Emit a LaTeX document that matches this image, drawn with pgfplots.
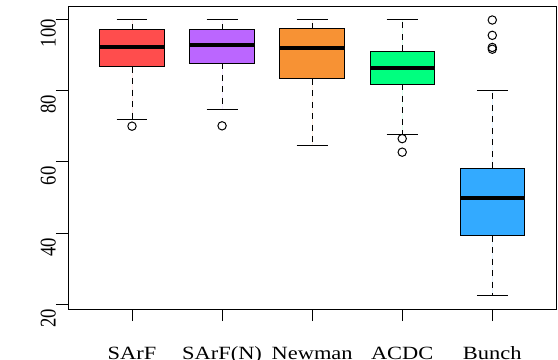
\documentclass[border=0pt]{standalone}
\usepackage{fontspec}
\setmainfont{Liberation Serif}
\usepackage{graphicx}
\usepackage{pgfplots}
\pgfplotsset{compat=1.18}
\usepgfplotslibrary{statistics}
\definecolor{cred}{RGB}{255,77,77}
\definecolor{cpurple}{RGB}{187,102,255}
\definecolor{corange}{RGB}{247,146,52}
\definecolor{cgreen}{RGB}{0,255,127}
\definecolor{cblue}{RGB}{51,170,255}
\begin{document}
\begin{tikzpicture}
\useasboundingbox (-68bp,-51bp) rectangle (490bp,309bp);
\begin{axis}[
  at={(0,0)}, anchor=south west,
  scale only axis, width=488.5bp, height=302.2bp,
  xmin=0.2894, xmax=5.713, ymin=18.68, ymax=103.51,
  axis line style={line width=1bp, black},
  tick pos=left, tick align=outside,
  major tick length=12bp,
  tick style={line width=1bp, black},
  xtick={1,2,3,4,5},
  xticklabels={\scalebox{1.2}[1]{SArF},\scalebox{1.2}[1]{SArF(N)},\scalebox{1.2}[1]{Newman},\scalebox{1.2}[1]{ACDC},\scalebox{1.2}[1]{Bunch}},
  ytick={20,40,60,80,100},
  yticklabel={\scalebox{1}[1.2]{\pgfmathprintnumber{\tick}}},
  /pgf/number format/assume math mode=true,
  tick label style={font=\fontsize{18.7bp}{22bp}\selectfont, inner sep=0pt},
  xticklabel style={anchor=base, yshift=-38bp},
  yticklabel style={rotate=90, anchor=south, xshift=-14bp},
  boxplot/draw direction=y,
  boxplot/every median/.style={line width=4bp},
  boxplot/every whisker/.style={dash pattern=on 6bp off 5.5bp},
  bp/.style={solid, fill=#1, draw=black, line width=1bp, mark=o, mark size=4.2bp, mark options={solid, black, fill=none, line width=1bp}},
]
% SArF
\addplot+[bp=cred, boxplot prepared={draw position=1, lower whisker=72, lower quartile=86.7, median=92.3, upper quartile=97.0, upper whisker=100, box extend=0.714, whisker extend=0}]
  coordinates {(1,70)};
% SArF(N)
\addplot+[bp=cpurple, boxplot prepared={draw position=2, lower whisker=74.6, lower quartile=87.6, median=92.8, upper quartile=97.0, upper whisker=100, box extend=0.714, whisker extend=0}]
  coordinates {(2,70.1)};
% Newman
\addplot+[bp=corange, boxplot prepared={draw position=3, lower whisker=64.7, lower quartile=83.3, median=91.9, upper quartile=97.4, upper whisker=100, box extend=0.714, whisker extend=0}]
  coordinates {};
% ACDC
\addplot+[bp=cgreen, boxplot prepared={draw position=4, lower whisker=67.6, lower quartile=81.7, median=86.3, upper quartile=91.1, upper whisker=100, box extend=0.714, whisker extend=0}]
  coordinates {(4,66.5) (4,62.7)};
% Bunch
\addplot+[bp=cblue, boxplot prepared={draw position=5, lower whisker=22.4, lower quartile=39.3, median=49.7, upper quartile=58.2, upper whisker=80.0, box extend=0.714, whisker extend=0}]
  coordinates {(5,99.8) (5,95.5) (5,92.1) (5,91.6)};
% whisker caps
\addplot[black, line width=1bp] coordinates {(0.828,100) (1.172,100)};
\addplot[black, line width=1bp] coordinates {(0.828,72) (1.172,72)};
\addplot[black, line width=1bp] coordinates {(1.828,100) (2.172,100)};
\addplot[black, line width=1bp] coordinates {(1.828,74.6) (2.172,74.6)};
\addplot[black, line width=1bp] coordinates {(2.828,100) (3.172,100)};
\addplot[black, line width=1bp] coordinates {(2.828,64.7) (3.172,64.7)};
\addplot[black, line width=1bp] coordinates {(3.828,100) (4.172,100)};
\addplot[black, line width=1bp] coordinates {(3.828,67.6) (4.172,67.6)};
\addplot[black, line width=1bp] coordinates {(4.828,80) (5.172,80)};
\addplot[black, line width=1bp] coordinates {(4.828,22.4) (5.172,22.4)};
\end{axis}
\end{tikzpicture}
\end{document}
